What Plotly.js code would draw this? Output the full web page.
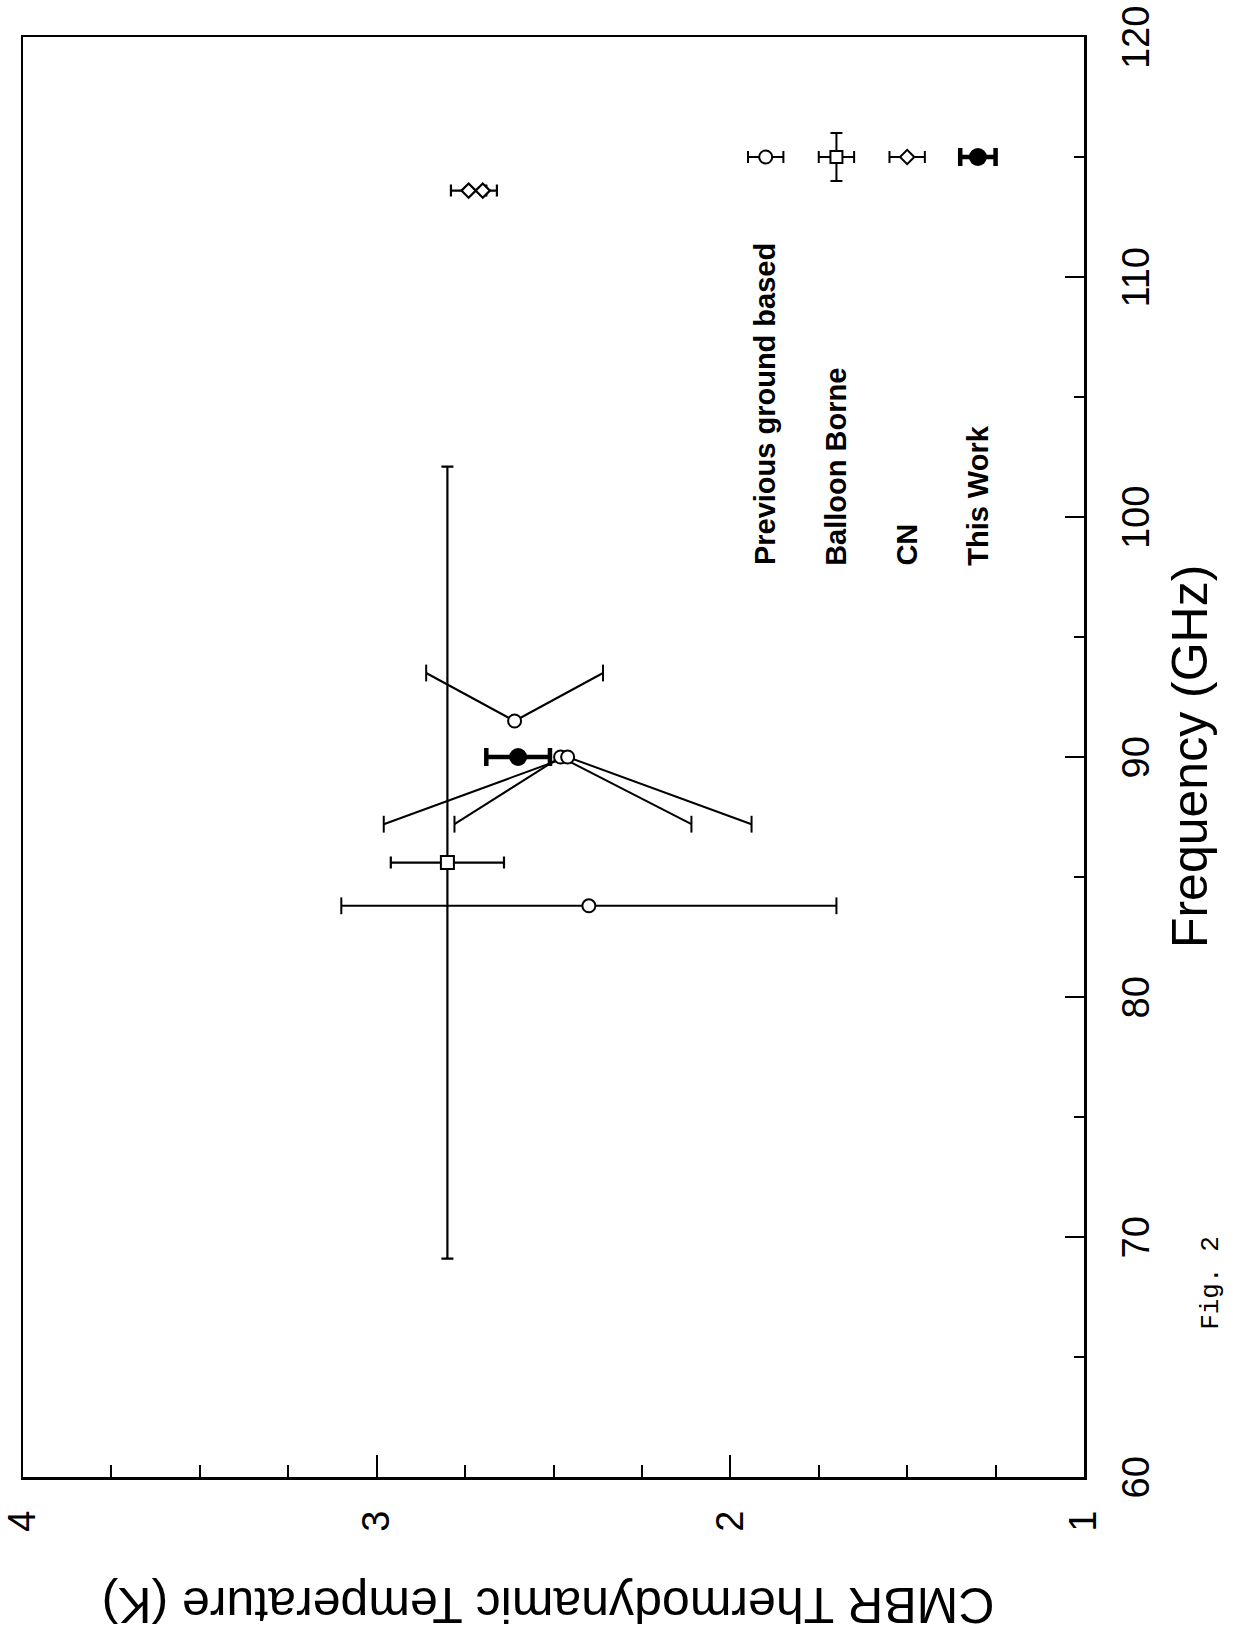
<!DOCTYPE html>
<html><head><meta charset="utf-8">
<script src="https://cdn.plot.ly/plotly-3.0.1.min.js"></script>
<style>html,body{margin:0;padding:0;background:#fff}#chart{width:1236px;height:1634px}</style>
</head><body><div id="chart"></div>
<script>
// ---- Data (T in K, frequency in GHz) ----
// Previous ground based: point, the two error-bar end temperatures, and the frequency at which the bar ends are drawn
const pgbT    = [2.40, 2.61, 2.48, 2.46];
const pgbF    = [83.8, 91.5, 90.0, 90.0];
const pgbThiT = [3.10, 2.86, 2.78, 2.98];
const pgbLoT  = [1.70, 2.36, 2.11, 1.94];
const pgbEndF = [83.8, 93.5, 87.2, 87.2];
// Balloon borne
const balT = [2.80], balF = [85.6], balTerr = [0.16], balFerr = [16.5];
// CN
const cnT = [2.74, 2.70], cnF = [113.6, 113.6], cnTerr = [0.05, 0.04];
// This work
const twT = [2.60], twF = [90.0], twTerr = [0.09];
// Key (drawn inside the plot area)
const keyNames = ["Previous ground based", "Balloon Borne", "CN", "This Work"];
const keyT = [1.90, 1.70, 1.50, 1.30];
const keyMarkF = 115.0, keyTextF = 97.9;
const keyTerr = 0.05, keyFerr = 1.0;
// Axis ticks
const tempTicks = [4, 3, 2, 1];
const freqTicks = [60, 70, 80, 90, 100, 110, 120];

const FONT = "Liberation Sans, Arial, Helvetica, sans-serif";
const openCircle = {symbol: 'circle', size: 13, color: 'white', line: {color: 'black', width: 2}};

// build slanted error segments for previous ground based points
const segX = [], segY = [], capX = [], capY = [];
for (let i = 0; i < pgbT.length; i++) {
  segX.push(pgbThiT[i], pgbT[i], pgbLoT[i], null);
  segY.push(pgbEndF[i], pgbF[i], pgbEndF[i], null);
  capX.push(pgbThiT[i], pgbLoT[i]);
  capY.push(pgbEndF[i], pgbEndF[i]);
}

const traces = [
  {type: 'scatter', mode: 'lines', x: segX, y: segY, line: {color: 'black', width: 2}, hoverinfo: 'skip'},
  {type: 'scatter', mode: 'markers', x: capX, y: capY,
   marker: {symbol: 'line-ns', size: 12, line: {color: 'black', width: 2}}, hoverinfo: 'skip'},
  {type: 'scatter', mode: 'markers', x: balT, y: balF, marker: {symbol: 'square', size: 13, color: 'white', line: {color: 'black', width: 2}},
   error_x: {type: 'data', array: balTerr, color: 'black', thickness: 2.2, width: 6},
   error_y: {type: 'data', array: balFerr, color: 'black', thickness: 2.2, width: 6}},
  {type: 'scatter', mode: 'markers', x: cnT, y: cnF, marker: {symbol: 'diamond', size: 11, color: 'white', line: {color: 'black', width: 2.2}},
   error_x: {type: 'data', array: cnTerr, color: 'black', thickness: 2.2, width: 6}},
  {type: 'scatter', mode: 'markers', x: pgbT, y: pgbF, marker: openCircle},
  {type: 'scatter', mode: 'markers', x: twT, y: twF, marker: {symbol: 'circle', size: 18, color: 'black'},
   error_x: {type: 'data', array: twTerr, color: 'black', thickness: 4.5, width: 9}},
  // key symbols
  {type: 'scatter', mode: 'markers', x: [keyT[0]], y: [keyMarkF], marker: openCircle,
   error_x: {type: 'data', array: [keyTerr], color: 'black', thickness: 2, width: 6}},
  {type: 'scatter', mode: 'markers', x: [keyT[1]], y: [keyMarkF], marker: {symbol: 'square', size: 12, color: 'white', line: {color: 'black', width: 2}},
   error_x: {type: 'data', array: [keyTerr], color: 'black', thickness: 2, width: 6},
   error_y: {type: 'data', array: [keyFerr], color: 'black', thickness: 2, width: 6}},
  {type: 'scatter', mode: 'markers', x: [keyT[2]], y: [keyMarkF], marker: {symbol: 'diamond', size: 11, color: 'white', line: {color: 'black', width: 2}},
   error_x: {type: 'data', array: [keyTerr], color: 'black', thickness: 2, width: 6}},
  {type: 'scatter', mode: 'markers', x: [keyT[3]], y: [keyMarkF], marker: {symbol: 'circle', size: 18, color: 'black'},
   error_x: {type: 'data', array: [keyTerr], color: 'black', thickness: 4.5, width: 9}}
];

const annotations = keyNames.map((n, i) => ({
  x: keyT[i], y: keyTextF, xref: 'x', yref: 'y', text: n, showarrow: false,
  textangle: -90, xanchor: 'center', yanchor: 'bottom',
  font: {family: FONT, size: 29, weight: 'bold', color: 'black'}
}));
annotations.push(
  {x: 0.495, y: -0.089, xref: 'paper', yref: 'paper', text: 'CMBR Thermodynamic Temperature (K)', showarrow: false,
   textangle: 180, xanchor: 'center', yanchor: 'middle', font: {family: FONT, size: 50, color: 'black'}},
  {x: 1.1, y: 0.5, xref: 'paper', yref: 'paper', text: 'Frequency (GHz)', showarrow: false,
   textangle: -90, xanchor: 'center', yanchor: 'middle', font: {family: FONT, size: 50, color: 'black'}},
  {x: 1.119, y: 0.135, xref: 'paper', yref: 'paper', text: 'Fig. 2', showarrow: false,
   textangle: -90, xanchor: 'center', yanchor: 'middle', font: {family: 'Liberation Mono, Courier New, monospace', size: 26, color: 'black'}}
);

const layout = {
  width: 1236, height: 1634,
  margin: {l: 23, r: 152, t: 37, b: 157},
  paper_bgcolor: 'white', plot_bgcolor: 'white',
  showlegend: false,
  xaxis: {
    range: [4, 1], autorange: false, tickmode: 'array', tickvals: tempTicks, ticktext: tempTicks.map(String),
    ticks: 'inside', ticklen: 22, tickwidth: 2, tickcolor: 'black', tickangle: -90, ticklabelstandoff: 16,
    ticklabeloverflow: 'allow',
    tickfont: {family: FONT, size: 38, color: 'black'},
    minor: {tickmode: 'linear', tick0: 1, dtick: 0.25, ticks: 'inside', ticklen: 12, tickwidth: 2, tickcolor: 'black', showgrid: false},
    showline: true, linewidth: 2.5, linecolor: 'black', mirror: true, showgrid: false, zeroline: false
  },
  yaxis: {
    range: [60, 120], autorange: false, side: 'right', tickmode: 'array', tickvals: freqTicks, ticktext: freqTicks.map(String),
    ticks: 'inside', ticklen: 19, tickwidth: 2, tickcolor: 'black', tickangle: -90, ticklabelstandoff: 17,
    ticklabelshift: 6, ticklabeloverflow: 'allow',
    tickfont: {family: FONT, size: 38, color: 'black'},
    minor: {tickmode: 'linear', tick0: 60, dtick: 5, ticks: 'inside', ticklen: 10, tickwidth: 2, tickcolor: 'black', showgrid: false},
    showline: true, linewidth: 2.5, linecolor: 'black', mirror: true, showgrid: false, zeroline: false
  },
  annotations: annotations
};

Plotly.newPlot('chart', traces, layout, {staticPlot: true});
</script>
</body></html>
